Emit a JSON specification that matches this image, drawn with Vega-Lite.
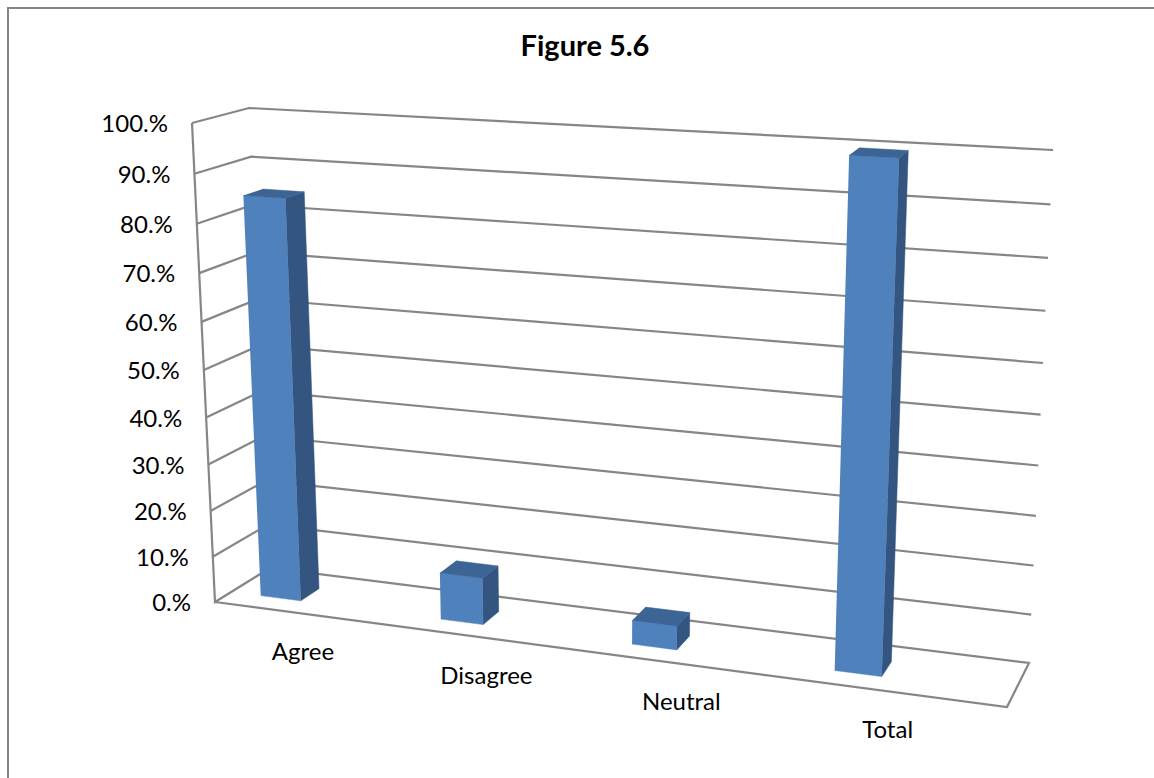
{
  "$schema": "https://vega.github.io/schema/vega-lite/v6.json",
  "width": 1154,
  "height": 778,
  "padding": {"left": 8, "top": 8, "right": 0, "bottom": 0},
  "autosize": "none",
  "background": "white",
  "title": {"text": "Figure 5.6", "anchor": "middle", "offset": -54, "font": "Lato", "fontSize": 29, "fontWeight": "bold", "color": "#000000", "frame": "group"},
  "config": {"view": {"stroke": "#868686", "strokeWidth": 2}},
  "data": {
    "values": [
      {"category": "Agree", "share": 85},
      {"category": "Disagree", "share": 10},
      {"category": "Neutral", "share": 5},
      {"category": "Total", "share": 100},
      {"tick": 0}, {"tick": 10}, {"tick": 20}, {"tick": 30}, {"tick": 40}, {"tick": 50},
      {"tick": 60}, {"tick": 70}, {"tick": 80}, {"tick": 90}, {"tick": 100}
    ]
  },
  "transform": [
    {"calculate": "indexof(['Agree','Disagree','Neutral','Total'], datum.category)", "as": "i"},
    {"calculate": "0.063 + 0.2245 * datum.i + 0.0072 * datum.i * datum.i", "as": "c"},
    {"calculate": "0.0256 + 0.0015 * datum.i", "as": "hw"},
    {"calculate": "datum.c - datum.hw", "as": "ul"},
    {"calculate": "datum.c + datum.hw", "as": "ur"},
    {"calculate": "datum.share / 100", "as": "h"},
    {"calculate": "datum.tick / 100", "as": "t"},
    {"calculate": "datum.i >= 0 ? [{f:'front',s:0,u:datum.ul,v:datum.h,w:0.3},{f:'front',s:1,u:datum.ur,v:datum.h,w:0.3},{f:'front',s:2,u:datum.ur,v:0,w:0.3},{f:'front',s:3,u:datum.ul,v:0,w:0.3},{f:'side',s:0,u:datum.ur,v:datum.h,w:0.3},{f:'side',s:1,u:datum.ur,v:datum.h,w:0.65},{f:'side',s:2,u:datum.ur,v:0,w:0.65},{f:'side',s:3,u:datum.ur,v:0,w:0.3},{f:'top',s:0,u:datum.ul,v:datum.h,w:0.3},{f:'top',s:1,u:datum.ur,v:datum.h,w:0.3},{f:'top',s:2,u:datum.ur,v:datum.h,w:0.65},{f:'top',s:3,u:datum.ul,v:datum.h,w:0.65},{f:'label',s:0,u:datum.c,v:0,w:0}] : datum.tick === 0 ? [{f:'grid',s:0,u:0,v:1,w:0},{f:'grid',s:1,u:0,v:0,w:0},{f:'grid',s:2,u:0,v:0,w:1},{f:'grid',s:3,u:1,v:0,w:1},{f:'grid',s:4,u:1,v:0,w:0},{f:'grid',s:5,u:0,v:0,w:0},{f:'label',s:0,u:0,v:0,w:0}] : [{f:'grid',s:0,u:0,v:datum.t,w:0},{f:'grid',s:1,u:0,v:datum.t,w:1},{f:'grid',s:2,u:1,v:datum.t,w:1},{f:'label',s:0,u:0,v:datum.t,w:0}]", "as": "verts"},
    {"flatten": ["verts"], "as": ["vert"]},
    {"calculate": "datum.vert.f", "as": "face"},
    {"calculate": "datum.vert.s", "as": "seq"},
    {"calculate": "datum.vert.u", "as": "u"},
    {"calculate": "datum.vert.w", "as": "w"},
    {"calculate": "datum.vert.v / (datum.vert.v + 1.065 * (1 - datum.vert.v))", "as": "e"},
    {"calculate": "(1 - datum.w) * ((1 - datum.e) * ((1 - datum.u) * 215 + datum.u * 1007) + datum.e * ((1 - datum.u) * 192 + datum.u * 1033)) + datum.w * ((1 - datum.e) * ((1 - datum.u) * 270 + datum.u * 1029) + datum.e * ((1 - datum.u) * 249 + datum.u * 1053))", "as": "px"},
    {"calculate": "(1 - datum.w) * ((1 - datum.e) * ((1 - datum.u) * 602 + datum.u * 707) + datum.e * ((1 - datum.u) * 123 + datum.u * 173)) + datum.w * ((1 - datum.e) * ((1 - datum.u) * 568 + datum.u * 663) + datum.e * ((1 - datum.u) * 108 + datum.u * 150))", "as": "py"},
    {"calculate": "datum.tick + '.%'", "as": "tickLabel"},
    {"calculate": "datum.category + ' / ' + datum.face", "as": "facet"}
  ],
  "encoding": {
    "x": {"field": "px", "type": "quantitative", "axis": null, "scale": {"domain": [8, 1162], "nice": false, "zero": false}},
    "y": {"field": "py", "type": "quantitative", "axis": null, "scale": {"domain": [786, 8], "nice": false, "zero": false}}
  },
  "layer": [
    {
      "transform": [{"filter": "datum.face === 'grid'"}],
      "mark": {"type": "line", "stroke": "#868686", "strokeWidth": 2.2, "interpolate": "linear"},
      "encoding": {
        "detail": {"field": "tick", "type": "nominal"},
        "order": {"field": "seq", "type": "quantitative"}
      }
    },
    {
      "transform": [{"filter": "datum.face === 'front'"}],
      "mark": {"type": "line", "fill": "#4f81bd", "stroke": "#4f81bd", "strokeWidth": 0.5},
      "encoding": {
        "detail": {"field": "facet", "type": "nominal"},
        "order": {"field": "seq", "type": "quantitative"}
      }
    },
    {
      "transform": [{"filter": "datum.face === 'side'"}],
      "mark": {"type": "line", "fill": "#33557f", "stroke": "#33557f", "strokeWidth": 0.5},
      "encoding": {
        "detail": {"field": "facet", "type": "nominal"},
        "order": {"field": "seq", "type": "quantitative"}
      }
    },
    {
      "transform": [{"filter": "datum.face === 'top'"}],
      "mark": {"type": "line", "fill": "#3c6494", "stroke": "#3c6494", "strokeWidth": 0.5},
      "encoding": {
        "detail": {"field": "facet", "type": "nominal"},
        "order": {"field": "seq", "type": "quantitative"}
      }
    },
    {
      "transform": [{"filter": "datum.face === 'label' && datum.i < 0"}],
      "mark": {"type": "text", "font": "Lato", "fontSize": 24, "align": "right", "baseline": "middle", "dx": -24, "dy": 2, "color": "#000000"},
      "encoding": {"text": {"field": "tickLabel", "type": "nominal"}}
    },
    {
      "transform": [{"filter": "datum.face === 'label' && datum.i >= 0"}],
      "mark": {"type": "text", "font": "Lato", "fontSize": 24, "align": "center", "baseline": "middle", "dx": 38, "dy": 44.5, "color": "#000000"},
      "encoding": {"text": {"field": "category", "type": "nominal"}}
    }
  ]
}
